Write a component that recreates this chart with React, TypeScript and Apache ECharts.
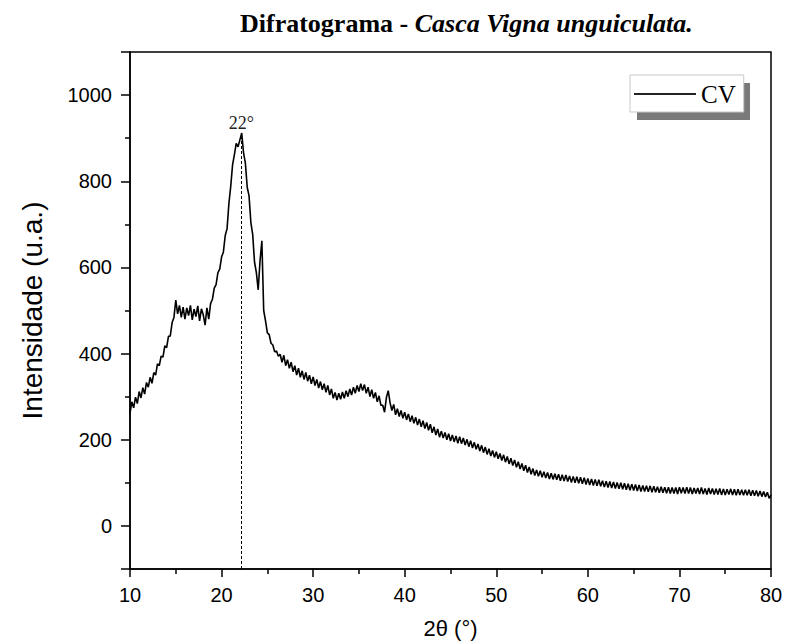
import { useEffect, useRef } from 'react';
import * as echarts from 'echarts';
import type { EChartsOption } from 'echarts';

// 2θ sampling step (degrees); each block below starts at the given angle
const STEP = 0.2;

// intensity (u.a.), 10 values per 2°
const intensity10 = [
  262, 288, 274, 299, 284, 312, 297, 321, 306, 333,
  322, 345, 331, 356, 350, 376, 372, 394, 392, 418,
  414, 440, 441, 472, 484, 524, 492, 512, 484, 508,
  480, 506, 488, 512, 478, 503, 486, 511, 476, 504,
  490, 466, 506, 480, 516, 526, 552, 560, 588, 596,
];
const intensity20 = [
  624, 636, 674, 690, 748, 788, 838, 862, 888, 880,
  896, 912, 866, 842, 786, 766, 704, 676, 612, 588,
  548, 615, 662, 500, 476, 448, 444, 424, 420, 404,
  406, 394, 398, 380, 396, 372, 386, 366, 380, 358,
  372, 350, 366, 345, 360, 340, 356, 336, 350, 330,
];
const intensity30 = [
  346, 326, 340, 320, 335, 316, 330, 310, 326, 304,
  318, 296, 310, 292, 308, 294, 311, 296, 314, 300,
  318, 304, 322, 308, 326, 312, 330, 314, 328, 308,
  322, 300, 316, 296, 310, 288, 302, 280, 280, 264,
  298, 314, 286, 268, 282, 258, 272, 254, 268, 250,
];
const intensity40 = [
  264, 246, 260, 242, 256, 238, 252, 234, 248, 230,
  244, 226, 240, 222, 236, 216, 230, 211, 225, 206,
  220, 204, 217, 200, 214, 197, 211, 195, 209, 192,
  207, 191, 204, 188, 201, 184, 198, 181, 194, 178,
  190, 174, 187, 170, 183, 166, 179, 162, 175, 159,
];
const intensity50 = [
  172, 156, 168, 152, 165, 148, 161, 144, 157, 140,
  153, 136, 149, 132, 145, 128, 141, 124, 137, 120,
  133, 117, 130, 115, 128, 113, 126, 111, 124, 109,
  122, 108, 121, 107, 120, 105, 119, 104, 118, 103,
  116, 101, 115, 100, 114, 99, 113, 98, 112, 96,
];
const intensity60 = [
  110, 95, 109, 94, 108, 93, 107, 92, 105, 90,
  104, 89, 103, 88, 102, 87, 101, 86, 100, 85,
  99, 84, 98, 83, 97, 82, 96, 81, 95, 80,
  94, 80, 93, 79, 93, 78, 92, 78, 91, 77,
  91, 77, 90, 76, 90, 75, 89, 75, 89, 74,
];
const intensity70 = [
  90, 76, 89, 75, 90, 75, 89, 74, 88, 75,
  88, 74, 89, 74, 87, 73, 88, 74, 87, 73,
  86, 73, 87, 72, 86, 72, 85, 73, 86, 72,
  85, 71, 85, 72, 84, 71, 84, 71, 84, 70,
  83, 70, 82, 69, 81, 68, 80, 67, 78, 64,
];
const intensity80 = [72];

const blocks: [number, number[]][] = [
  [10, intensity10],
  [20, intensity20],
  [30, intensity30],
  [40, intensity40],
  [50, intensity50],
  [60, intensity60],
  [70, intensity70],
  [80, intensity80],
];

const PEAK_ANGLE = 22.15;
const PEAK_TOP = 905;
const PEAK_LABEL = '22°';

const SERIF = 'Liberation Serif, Times New Roman, serif';
const SANS = 'Liberation Sans, Arial, sans-serif';

function buildOption(): EChartsOption {
  const data = blocks.flatMap(([start, vals]) =>
    vals.map((v, i) => [+(start + i * STEP).toFixed(1), v]),
  );

  return {
    animation: false,
    backgroundColor: '#fff',
    title: {
      text: '{b|Difratograma - }{i|Casca Vigna unguiculata.}',
      left: 240,
      top: 10,
      padding: 0,
      textStyle: {
        rich: {
          b: { fontFamily: SERIF, fontWeight: 'bold', fontSize: 26, color: '#000' },
          i: { fontFamily: SERIF, fontStyle: 'italic', fontSize: 26, color: '#000' },
        },
      },
    },
    legend: {
      data: ['CV'],
      left: 630,
      top: 75,
      selectedMode: false,
      itemWidth: 62,
      itemHeight: 14,
      padding: [6, 8, 5, 3],
      backgroundColor: '#fff',
      borderColor: '#c8c8c8',
      borderWidth: 1,
      itemStyle: { opacity: 0 },
      lineStyle: { width: 2, color: '#222' },
      textStyle: { fontFamily: SERIF, fontSize: 25, lineHeight: 26, color: '#000' },
    },
    graphic: [
      {
        type: 'rect',
        left: 637,
        top: 83,
        shape: { width: 113, height: 37 },
        style: { fill: '#7a7a7a' },
        z: 0,
      },
    ],
    grid: {
      left: 130,
      right: 16,
      top: 52,
      bottom: 74,
      show: true,
      borderColor: '#000',
      borderWidth: 1.5,
    },
    xAxis: {
      type: 'value',
      min: 10,
      max: 80,
      interval: 10,
      name: '2θ (°)',
      nameLocation: 'middle',
      nameGap: 48,
      nameTextStyle: { fontFamily: SANS, fontSize: 22, color: '#000' },
      axisLine: { onZero: false, lineStyle: { color: '#000', width: 1.5 } },
      axisTick: { length: 8, lineStyle: { color: '#000', width: 1.5 } },
      minorTick: { show: true, splitNumber: 2, length: 5, lineStyle: { color: '#000', width: 1.5 } },
      splitLine: { show: false },
      axisLabel: { fontFamily: SANS, fontSize: 20, color: '#000', margin: 16 },
    },
    yAxis: {
      type: 'value',
      min: -100,
      max: 1100,
      splitNumber: 6,
      name: 'Intensidade (u.a.)',
      nameLocation: 'middle',
      nameGap: 84,
      nameTextStyle: { fontFamily: SANS, fontSize: 28, color: '#000' },
      axisLine: { onZero: false, lineStyle: { color: '#000', width: 1.5 } },
      axisTick: { length: 9, lineStyle: { color: '#000', width: 1.5 } },
      minorTick: { show: true, splitNumber: 2, length: 5, lineStyle: { color: '#000', width: 1.5 } },
      splitLine: { show: false },
      axisLabel: {
        fontFamily: SANS,
        fontSize: 20,
        color: '#000',
        margin: 18,
        showMinLabel: false,
        showMaxLabel: false,
        formatter: (v: number) => String(v),
      },
    },
    series: [
      {
        name: 'CV',
        type: 'line',
        data,
        symbol: 'none',
        silent: true,
        color: '#000',
        lineStyle: { color: '#000', width: 1.6 },
        markLine: {
          silent: true,
          symbol: ['none', 'none'],
          lineStyle: { color: '#000', type: [3, 2], width: 1 },
          label: {
            show: true,
            position: 'start',
            distance: 4,
            formatter: PEAK_LABEL,
            fontFamily: SERIF,
            fontSize: 18,
            color: '#222',
          },
          data: [[{ coord: [PEAK_ANGLE, PEAK_TOP] }, { coord: [PEAK_ANGLE, -100] }]],
        },
      },
    ],
  };
}

export default function App() {
  const ref = useRef<HTMLDivElement>(null);

  useEffect(() => {
    if (!ref.current) return;
    const chart = echarts.init(ref.current, undefined, { renderer: 'svg' });
    chart.setOption(buildOption());
    return () => chart.dispose();
  }, []);

  return (
    <div
      ref={ref}
      style={{ position: 'fixed', left: 0, top: 0, width: 787, height: 644, background: '#fff' }}
    />
  );
}
